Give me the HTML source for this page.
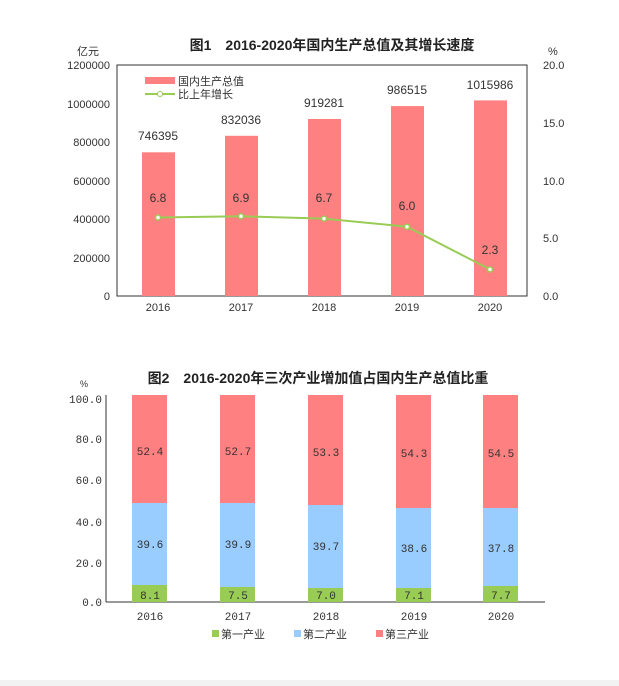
<!DOCTYPE html><html><head><meta charset="utf-8"><style>body{margin:0;background:#fff}svg{display:block}text{font-family:"Liberation Sans","Noto Sans CJK SC",sans-serif}.m text{font-family:"Liberation Mono","Noto Sans CJK SC",monospace}</style></head><body>
<svg width="619" height="686" xmlns="http://www.w3.org/2000/svg">
<rect width="619" height="686" fill="#fff"/>
<text x="332" y="50" font-size="14" text-anchor="middle" font-weight="bold" fill="#222">图1　2016-2020年国内生产总值及其增长速度</text>
<text x="77" y="55" font-size="11" fill="#333">亿元</text>
<text x="548" y="55" font-size="11" fill="#333">%</text>
<g font-size="11" fill="#333" text-anchor="end">
<text x="110" y="69">1200000</text><text x="110" y="108">1000000</text><text x="110" y="146">800000</text><text x="110" y="185">600000</text><text x="110" y="223">400000</text><text x="110" y="262">200000</text><text x="110" y="300">0</text></g>
<g font-size="11" fill="#333"><text x="543" y="69">20.0</text><text x="543" y="127">15.0</text><text x="543" y="185">10.0</text><text x="543" y="242">5.0</text><text x="543" y="300">0.0</text></g>
<rect x="117" y="65" width="410" height="231" fill="none" stroke="#333" stroke-width="1"/>
<g fill="#ff8080">
<rect x="142" y="152.3" width="33" height="143.7"/><rect x="225" y="135.8" width="33" height="160.2"/><rect x="308" y="119" width="33" height="177"/><rect x="391" y="106.1" width="33" height="189.9"/><rect x="474" y="100.4" width="33" height="195.6"/></g>
<g font-size="12" fill="#333" text-anchor="middle">
<text x="158" y="140">746395</text><text x="241" y="124">832036</text><text x="324" y="107">919281</text><text x="407" y="94">986515</text><text x="490" y="89">1015986</text>
<text x="158" y="202">6.8</text><text x="241" y="202">6.9</text><text x="324" y="202">6.7</text><text x="407" y="210">6.0</text><text x="490" y="254">2.3</text>
<text x="158" y="311" font-size="11">2016</text><text x="241" y="311" font-size="11">2017</text><text x="324" y="311" font-size="11">2018</text><text x="407" y="311" font-size="11">2019</text><text x="490" y="311" font-size="11">2020</text></g>
<polyline points="158,217.5 241,216.3 324,218.6 407,226.7 490,269.4" fill="none" stroke="#99cc55" stroke-width="2"/>
<g fill="#fff" stroke="#99cc55" stroke-width="1.5"><circle cx="158" cy="217.5" r="2.5"/><circle cx="241" cy="216.3" r="2.5"/><circle cx="324" cy="218.6" r="2.5"/><circle cx="407" cy="226.7" r="2.5"/><circle cx="490" cy="269.4" r="2.5"/></g>
<rect x="145" y="77" width="30" height="7" fill="#ff8080"/>
<text x="178" y="85" font-size="11" fill="#333">国内生产总值</text>
<line x1="145" y1="94" x2="175" y2="94" stroke="#99cc55" stroke-width="2"/><circle cx="160" cy="94" r="2.5" fill="#fff" stroke="#99cc55"/>
<text x="178" y="98" font-size="11" fill="#333">比上年增长</text>

<text x="318" y="383" font-size="14" text-anchor="middle" font-weight="bold" fill="#222">图2　2016-2020年三次产业增加值占国内生产总值比重</text>
<text x="80" y="387" font-size="9" fill="#333">%</text>
<g class="m" font-size="11" fill="#333" text-anchor="end">
<text x="102" y="403">100.0</text><text x="102" y="443">80.0</text><text x="102" y="484">60.0</text><text x="102" y="526">40.0</text><text x="102" y="567">20.0</text><text x="102" y="606">0.0</text></g>
<line x1="106" y1="395" x2="106" y2="602" stroke="#333"/><line x1="106" y1="602" x2="545" y2="602" stroke="#333"/>
<g>
<rect x="132" y="585" width="35" height="17" fill="#99cc55"/><rect x="132" y="503" width="35" height="82" fill="#99ccff"/><rect x="132" y="395" width="35" height="108" fill="#ff8080"/>
<rect x="220" y="587" width="35" height="15" fill="#99cc55"/><rect x="220" y="503" width="35" height="84" fill="#99ccff"/><rect x="220" y="395" width="35" height="108" fill="#ff8080"/>
<rect x="308" y="588" width="35" height="14" fill="#99cc55"/><rect x="308" y="505" width="35" height="83" fill="#99ccff"/><rect x="308" y="395" width="35" height="110" fill="#ff8080"/>
<rect x="396" y="588" width="35" height="14" fill="#99cc55"/><rect x="396" y="508" width="35" height="80" fill="#99ccff"/><rect x="396" y="395" width="35" height="113" fill="#ff8080"/>
<rect x="483" y="586" width="35" height="16" fill="#99cc55"/><rect x="483" y="508" width="35" height="78" fill="#99ccff"/><rect x="483" y="395" width="35" height="113" fill="#ff8080"/>
</g>
<g class="m" font-size="11" fill="#333" text-anchor="middle">
<text x="150" y="455">52.4</text><text x="238" y="455">52.7</text><text x="326" y="456">53.3</text><text x="414" y="457">54.3</text><text x="501" y="457">54.5</text>
<text x="150" y="548">39.6</text><text x="238" y="548">39.9</text><text x="326" y="550">39.7</text><text x="414" y="552">38.6</text><text x="501" y="552">37.8</text>
<text x="150" y="599">8.1</text><text x="238" y="599">7.5</text><text x="326" y="599">7.0</text><text x="414" y="599">7.1</text><text x="501" y="599">7.7</text>
<text x="150" y="620">2016</text><text x="238" y="620">2017</text><text x="326" y="620">2018</text><text x="414" y="620">2019</text><text x="501" y="620">2020</text></g>
<rect x="212" y="630" width="7" height="7" fill="#99cc55"/><text x="221" y="638" font-size="11" fill="#333">第一产业</text>
<rect x="294" y="630" width="7" height="7" fill="#99ccff"/><text x="303" y="638" font-size="11" fill="#333">第二产业</text>
<rect x="376" y="630" width="7" height="7" fill="#ff8080"/><text x="385" y="638" font-size="11" fill="#333">第三产业</text>
<rect x="0" y="680" width="619" height="6" fill="#f2f2f2"/>
</svg></body></html>
